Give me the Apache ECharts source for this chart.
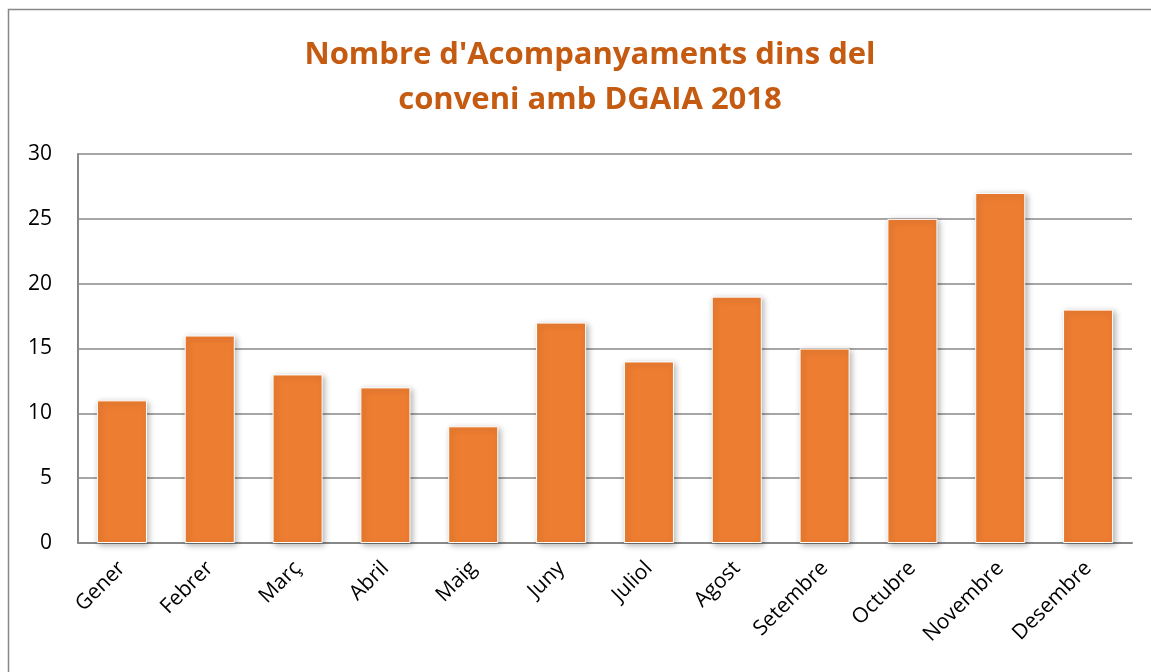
<!DOCTYPE html>
<html>
<head>
<meta charset="utf-8">
<script src="https://cdn.jsdelivr.net/npm/echarts@6/dist/echarts.min.js"></script>
<style>
  html, body { margin: 0; padding: 0; background: #fff; }
  #main { width: 1151px; height: 672px; }
</style>
</head>
<body>
<div id="main"></div>
<script>
// dades
const months = ['Gener', 'Febrer', 'Març', 'Abril', 'Maig', 'Juny', 'Juliol', 'Agost', 'Setembre', 'Octubre', 'Novembre', 'Desembre'];
const acompanyaments = [11, 16, 13, 12, 9, 17, 14, 19, 15, 25, 27, 18];
const titleText = "Nombre d'Acompanyaments dins del\nconveni amb DGAIA 2018";

let myChart = echarts.init(document.getElementById('main'));
let option = {
  animation: false,
  backgroundColor: '#fff',
  graphic: [{
    type: 'rect',
    shape: { x: 8.5, y: 9.5, width: 1160, height: 700 },
    style: { fill: 'none', stroke: '#888', lineWidth: 1.5 },
    silent: true
  }],
  title: {
    text: titleText,
    left: 585,
    top: 28,
    textAlign: 'center',
    textStyle: {
      fontFamily: 'Open Sans',
      fontWeight: 'bold',
      fontSize: 31,
      lineHeight: 45,
      color: '#C55A11'
    }
  },
  grid: {
    left: 78,
    right: 19,
    top: 154,
    bottom: 129
  },
  xAxis: {
    type: 'category',
    data: months,
    axisLine: { lineStyle: { color: '#888', width: 2 } },
    axisTick: { show: false },
    axisLabel: {
      rotate: 45,
      margin: 22,
      fontFamily: 'Open Sans',
      fontSize: 21,
      color: '#000'
    }
  },
  yAxis: {
    type: 'value',
    min: 0,
    max: 30,
    interval: 5,
    axisLine: { show: true, lineStyle: { color: '#888', width: 2 } },
    axisTick: { show: false },
    splitLine: { lineStyle: { color: '#888', width: 1.5 } },
    axisLabel: {
      margin: 26,
      fontFamily: 'Open Sans',
      fontSize: 21,
      color: '#000'
    }
  },
  series: [{
    name: 'Acompanyaments',
    type: 'bar',
    data: acompanyaments,
    barCategoryGap: '43%',
    itemStyle: {
      color: '#ED7D31',
      borderColor: '#fff',
      borderWidth: 1,
      shadowBlur: 6,
      shadowColor: 'rgba(0,0,0,0.3)',
      shadowOffsetX: 2,
      shadowOffsetY: 2
    }
  }]
};
myChart.setOption(option);
</script>
</body>
</html>
